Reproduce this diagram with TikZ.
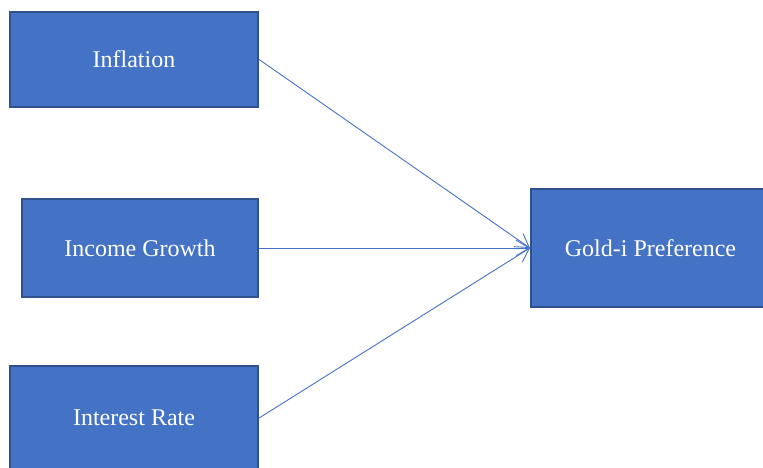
\documentclass[tikz,border=0pt]{standalone}
\usepackage{fontspec}
\setmainfont{Liberation Serif}
\usetikzlibrary{arrows.meta}
\definecolor{boxblue}{HTML}{4472C4}
\definecolor{boxedge}{HTML}{2F528F}

\begin{document}
\begin{tikzpicture}[x=1pt,y=-1pt,
  factor/.style={draw=boxedge,line width=2.2pt,fill=boxblue,text=white,font=\fontsize{24}{28}\selectfont,inner sep=0pt},
  link/.style={draw=boxblue,line width=0.9pt,-{Straight Barb[length=13pt,width=16pt]}}]
  \clip (0,0) rectangle (763,467);
  \node[factor,minimum width=248pt,minimum height=95pt] (infl) at (134,59.5) {Inflation};
  \node[factor,minimum width=236pt,minimum height=98pt] (income) at (140,248) {Income Growth};
  \node[factor,minimum width=248pt,minimum height=104pt] (rate) at (134,418) {Interest Rate};
  \node[factor,minimum width=236pt,minimum height=118pt] (gold) at (649,248) {\hspace*{3pt}Gold-i Preference};
  \path
     (infl.east) edge[link] (gold.west)
     (income.east) edge[link] (gold.west)
     (rate.east) edge[link] (gold.west);
\end{tikzpicture}
\end{document}
